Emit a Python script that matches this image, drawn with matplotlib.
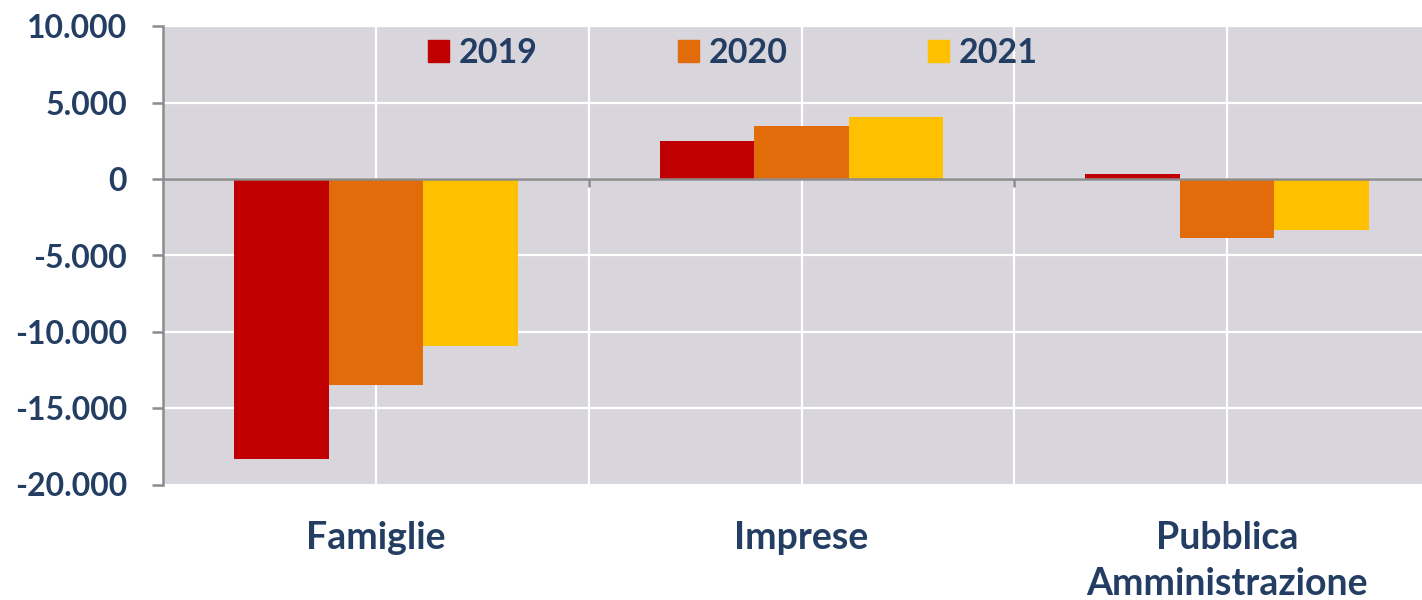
import matplotlib
matplotlib.use('Agg')
import numpy as np
import matplotlib.pyplot as plt
from matplotlib.patches import Patch
from matplotlib.ticker import FuncFormatter

plt.rcParams['font.family'] = ['Lato', 'DejaVu Sans']
plt.rcParams['font.weight'] = 'bold'

# data
categories = ['Famiglie', 'Imprese', 'Pubblica\nAmministrazione']
years = ['2019', '2020', '2021']
v2019 = [-18300, 2500, 350]
v2020 = [-13500, 3500, -3850]
v2021 = [-10900, 4050, -3300]
colors = ['#C00000', '#E36C0A', '#FFC000']

txt = '#243E63'
bg = '#D8D5DD'
axis_gray = '#8C8C8C'

fig = plt.figure(figsize=(14.22, 6.0), dpi=100)
# plot area runs a little past the right edge of the picture (cropped in the original)
ax = fig.add_axes([163/1422, 1 - 484.5/600, 1277/1422, 458/600])
ax.set_facecolor(bg)

x = np.arange(len(categories))
w = 0.222
for i, (vals, c) in enumerate(zip([v2019, v2020, v2021], colors)):
	ax.bar(x + (i - 1)*w, vals, width=w, color=c, zorder=3)

ax.set_xlim(-0.5, 2.5)
ax.set_ylim(-20000, 10000)
ax.set_yticks(np.arange(-20000, 10001, 5000))
ax.yaxis.set_major_formatter(FuncFormatter(lambda v, p: f'{int(v):,}'.replace(',', '.')))

# grid: horizontal at each tick, vertical at centres and boundaries
ax.set_axisbelow(True)
ax.grid(axis='y', color='white', linewidth=1.6)
for gx in [0, 0.5, 1, 1.5, 2]:
	ax.axvline(gx, color='white', linewidth=1.6, zorder=1)

for s in ['top', 'right', 'bottom']:
	ax.spines[s].set_visible(False)
ax.spines['left'].set_color(axis_gray)
ax.spines['left'].set_linewidth(1.8)
ax.tick_params(axis='y', direction='out', length=8, width=1.8, color=axis_gray,
			   pad=18, labelsize=23, labelcolor=txt)
ax.set_xticks(x)
ax.set_xticklabels(categories, fontsize=27, color=txt, linespacing=1.45)
ax.tick_params(axis='x', length=0, pad=26)

# zero axis line with small tick marks at category boundaries
ax.axhline(0, color=axis_gray, linewidth=1.8, zorder=4)
ax.vlines([0.5, 1.5], -500, 0, color=axis_gray, linewidth=1.8, zorder=4)

handles = [Patch(color=c) for c in colors]
leg = ax.legend(handles, years, loc='center', bbox_to_anchor=(570/1277, 0.942), ncol=3,
				frameon=False, fontsize=24.5, handlelength=0.62, handleheight=0.62,
				handletextpad=0.28, columnspacing=4.13, borderpad=0)
for t in leg.get_texts():
	t.set_color(txt)

fig.savefig('out.png', dpi=100)
